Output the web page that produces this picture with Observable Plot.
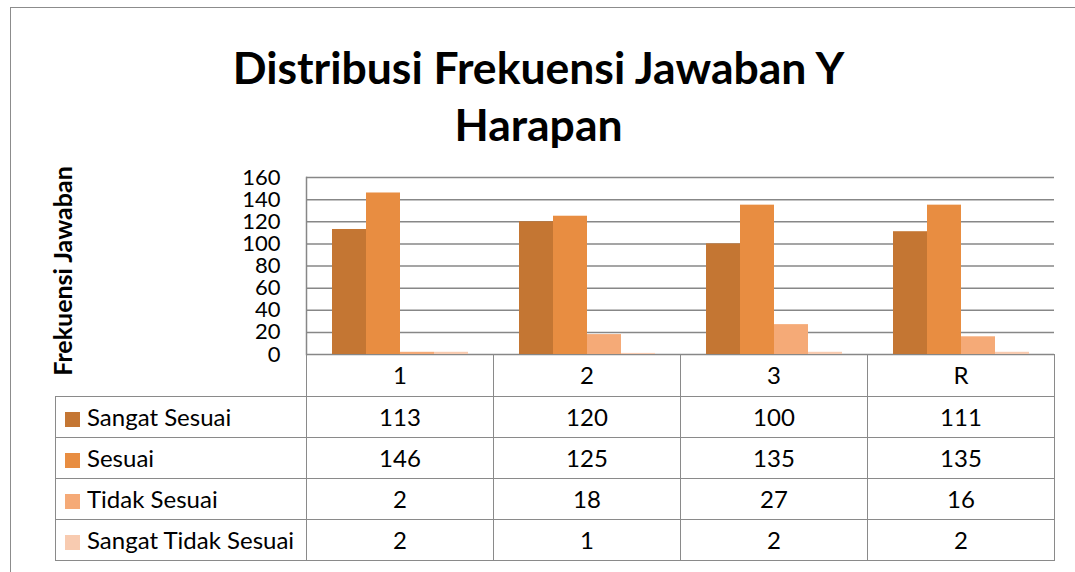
<!DOCTYPE html>
<html>
<head>
<meta charset="utf-8">
<script src="https://cdn.jsdelivr.net/npm/d3@7"></script>
<script src="https://cdn.jsdelivr.net/npm/@observablehq/plot@0.6"></script>
<style>
  html, body { margin: 0; padding: 0; background: #fff; }
  #wrap { position: relative; width: 1075px; height: 572px; overflow: hidden; font-family: Lato, "Open Sans", sans-serif; color: #000; }
  #frame { position: absolute; left: 10px; top: 7px; width: 1200px; height: 700px; border: 1.5px solid #8c8c8c; box-sizing: border-box; }
  #title { position: absolute; left: 0; top: 38px; width: 1077px; text-align: center; font-weight: 700; font-size: 44.5px; line-height: 57px; }
  #ytitle { position: absolute; left: 62px; top: 271px; transform: translate(-50%, -50%) rotate(-90deg); white-space: nowrap; font-weight: 700; font-size: 25px; }
  #plot { position: absolute; left: 0; top: 160px; }
  #tbl { position: absolute; border-collapse: collapse; table-layout: fixed; font-size: 24px; }
  #tbl td { border: 1.5px solid #8a8a8a; padding: 0; text-align: center; white-space: nowrap; overflow: hidden; }
  #tbl td.lab { text-align: left; padding-left: 9px; }
  #tbl td.corner { border: none; }
  #tbl tr.head td { border-top: none; }
  .sw { display: inline-block; width: 15px; height: 15px; margin-right: 7px; vertical-align: -1px; }
</style>
</head>
<body>
<div id="wrap">
  <div id="frame"></div>
  <div id="title">Distribusi Frekuensi Jawaban Y<br>Harapan</div>
  <div id="ytitle">Frekuensi Jawaban</div>
  <div id="plot"></div>
  <table id="tbl"></table>
</div>
<script>
const categories = ["1", "2", "3", "R"];
const seriesNames = ["Sangat Sesuai", "Sesuai", "Tidak Sesuai", "Sangat Tidak Sesuai"];
const sangatSesuai = [113, 120, 100, 111];
const sesuai = [146, 125, 135, 135];
const tidakSesuai = [2, 18, 27, 16];
const sangatTidakSesuai = [2, 1, 2, 2];
const yTicks = [0, 20, 40, 60, 80, 100, 120, 140, 160];
const colors = ["#c47633", "#e88d41", "#f5aa77", "#f8cbb0"];

const seriesValues = [sangatSesuai, sesuai, tidakSesuai, sangatTidakSesuai];
const rows = [];
seriesNames.forEach((s, i) => categories.forEach((c, j) => rows.push({cat: c, series: s, value: seriesValues[i][j]})));

const grid = "#878787";
const chart = Plot.plot({
  width: 1075,
  height: 195,
  marginLeft: 305,
  marginRight: 21,
  marginTop: 17,
  marginBottom: 1,
  style: {fontFamily: "Lato, 'Open Sans', sans-serif", fontSize: "22px", color: "#000", background: "transparent", overflow: "visible"},
  fx: {domain: categories, padding: 0, axis: null},
  x: {domain: seriesNames, paddingInner: 0, paddingOuter: 0.75, axis: null},
  y: {domain: [0, 160], axis: null},
  color: {domain: seriesNames, range: colors},
  marks: [
    Plot.ruleY(yTicks, {stroke: grid, strokeWidth: 1.5}),
    Plot.barY(rows, {fx: "cat", x: "series", y: "value", fill: "series"}),
    Plot.axisY({ticks: yTicks, tickSize: 0, tickPadding: 26, fontSize: 22, label: null, tickFormat: d => String(d), facetAnchor: "left"}),
    Plot.frame({anchor: "left", facetAnchor: "left", stroke: grid, strokeWidth: 1.5})
  ]
});
document.getElementById("plot").appendChild(chart);

// Data table aligned with the facet band scale
const fx = chart.scale("fx");
const bw = fx.bandwidth;
const left0 = fx.apply(categories[0]);
const tableLeft = 55;
const tbl = document.getElementById("tbl");
tbl.style.left = tableLeft + "px";
tbl.style.top = "354px";
const cg = document.createElement("colgroup");
const c0 = document.createElement("col"); c0.style.width = (left0 - tableLeft) + "px"; cg.appendChild(c0);
categories.forEach(() => { const c = document.createElement("col"); c.style.width = bw + "px"; cg.appendChild(c); });
tbl.appendChild(cg);
tbl.style.width = (left0 - tableLeft + bw * categories.length) + "px";

const head = document.createElement("tr");
head.className = "head";
head.style.height = "42px";
const corner = document.createElement("td"); corner.className = "corner"; head.appendChild(corner);
categories.forEach(c => { const td = document.createElement("td"); td.textContent = c; head.appendChild(td); });
tbl.appendChild(head);

seriesNames.forEach((s, i) => {
  const tr = document.createElement("tr");
  tr.style.height = "41px";
  const lab = document.createElement("td");
  lab.className = "lab";
  const sw = document.createElement("span"); sw.className = "sw"; sw.style.background = colors[i];
  lab.appendChild(sw);
  lab.appendChild(document.createTextNode(s));
  tr.appendChild(lab);
  seriesValues[i].forEach(v => { const td = document.createElement("td"); td.textContent = v; tr.appendChild(td); });
  tbl.appendChild(tr);
});
</script>
</body>
</html>
